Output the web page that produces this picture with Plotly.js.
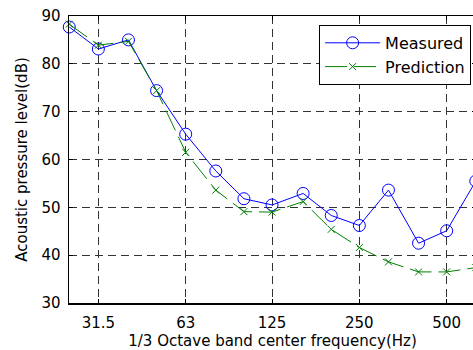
<!DOCTYPE html>
<html>
<head>
<meta charset="utf-8">
<script src="https://cdn.plot.ly/plotly-3.0.1.min.js"></script>
<style>
html, body { margin: 0; padding: 0; overflow: hidden; background: #fff; }
#chart { width: 480px; height: 350px; }
</style>
</head>
<body>
<div id="chart"></div>
<script>
// 1/3 octave band centre frequencies (Hz)
const freqs = [25, 31.5, 40, 50, 63, 80, 100, 125, 160, 200, 250, 315, 400, 500, 630];
// Acoustic pressure level (dB)
const measured = [87.7, 83.1, 85.0, 74.4, 65.3, 57.6, 51.8, 50.5, 52.9, 48.3, 46.2, 53.6, 42.5, 45.1, 55.5];
const prediction = [88.3, 83.9, 84.7, 74.4, 61.5, 53.6, 49.1, 49.0, 51.2, 45.4, 41.6, 38.6, 36.5, 36.5, 37.4];
const xTickVals = [31.5, 63, 125, 250, 500];
const xTickText = ['31.5', '63', '125', '250', '500'];
const yTickVals = [30, 40, 50, 60, 70, 80, 90];

const font = 'DejaVu Sans, Arial, sans-serif';

const traces = [
  {
    x: freqs, y: measured, name: 'Measured', type: 'scatter', mode: 'lines+markers',
    line: { color: '#0000ff', width: 1 },
    marker: { symbol: 'circle-open', size: 12, color: '#0000ff', line: { width: 1, color: '#0000ff' } },
    cliponaxis: false
  },
  {
    x: freqs, y: prediction, name: 'Prediction', type: 'scatter', mode: 'lines+markers',
    line: { color: '#008000', width: 1, dash: '22px,7px' },
    marker: { symbol: 'x-thin-open', size: 7, color: '#008000', line: { width: 1, color: '#008000' } },
    cliponaxis: false
  }
];

const layout = {
  width: 480, height: 350,
  margin: { l: 69, r: 4, t: 16, b: 47 },
  paper_bgcolor: '#fff', plot_bgcolor: '#fff',
  font: { family: font, size: 15, color: '#000' },
  showlegend: true,
  legend: {
    x: 0.988, y: 0.969, xanchor: 'right', yanchor: 'top',
    bgcolor: '#fff', bordercolor: '#000', borderwidth: 1,
    font: { family: font, size: 16, color: '#000' },
    itemwidth: 55
  },
  xaxis: {
    type: 'log',
    range: [Math.log10(24.95), Math.log10(631)],
    tickvals: xTickVals, ticktext: xTickText,
    ticks: 'inside', ticklen: 4, tickcolor: '#000',
    ticklabelstandoff: 5,
    showline: true, linecolor: '#000', linewidth: 1.5, mirror: 'ticks',
    showgrid: true, gridcolor: 'rgb(50,50,50)', griddash: '8px,5px', gridwidth: 1,
    zeroline: false,
    title: { text: '1/3 Octave band center frequency(Hz)', font: { family: font, size: 15 }, standoff: 4 },
    automargin: false
  },
  yaxis: {
    range: [30, 90],
    tickvals: yTickVals,
    ticks: 'inside', ticklen: 4, tickcolor: '#000',
    ticklabelstandoff: 4,
    showline: true, linecolor: '#000', linewidth: 1.5, mirror: 'ticks',
    showgrid: true, gridcolor: 'rgb(50,50,50)', griddash: '8px,5px', gridwidth: 1,
    zeroline: false,
    title: { text: 'Acoustic pressure level(dB)', font: { family: font, size: 15 }, standoff: 10 },
    automargin: false
  }
};

Plotly.newPlot('chart', traces, layout, { displayModeBar: false, staticPlot: true });
</script>
</body>
</html>
